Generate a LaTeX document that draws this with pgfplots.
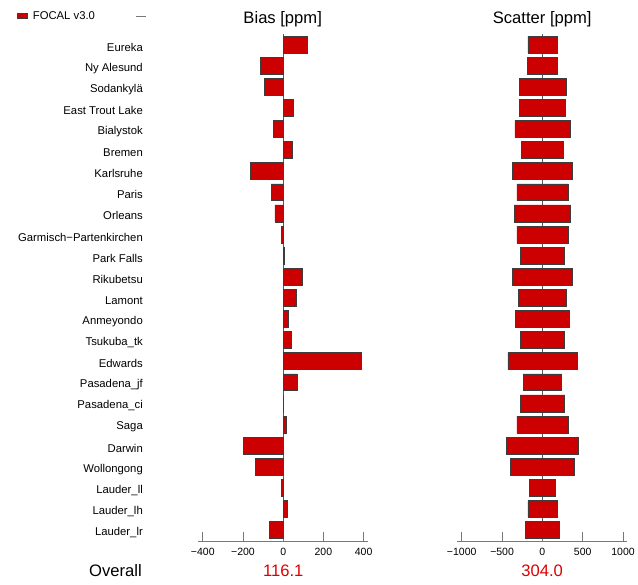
\documentclass[border=0pt]{standalone}
\usepackage{pgfplots}
\pgfplotsset{compat=1.18}
\usepackage{pgfplotstable}
\usepackage{fontspec}
\setmainfont{Liberation Sans}
\definecolor{barred}{RGB}{204,0,0}
\definecolor{baredge}{RGB}{60,60,60}
\definecolor{numred}{RGB}{220,0,0}
\definecolor{axgray}{RGB}{120,120,120}
\definecolor{zerogray}{RGB}{90,90,90}

\pgfplotsset{
 rectlegend/.style={legend image code/.code={\draw[##1] (0bp,-2.3bp) rectangle (10bp,2.3bp);}},
 dashlegend/.style={legend image code/.code={\draw[##1] (0bp,0bp) -- (10bp,0bp);}},
}
\pgfkeysifdefined{/pgfplots/stack negative/.@cmd}
  {\pgfplotsset{mystack/.style={stack negative=on previous}}}
  {\pgfplotsset{mystack/.style={}}}

% y index: 0 = Lauder_lr (bottom) ... 23 = Eureka (top)
\pgfplotstableread{
y bias scatter
23 120 180
22 -115 186
21 -92 290
20 52 288
19 -49 340
18 47 257
17 -164 368
16 -60 317
15 -41 350
14 -10 317
13 3 269
12 95 368
11 67 301
10 27 335
9 40 271
8 390 427
7 69 238
6 -1 277
5 14 315
4 -199 449
3 -139 393
2 -8 166
1 20 180
0 -69 209
}\sitedata

\begin{document}
\begin{tikzpicture}
\path[use as bounding box] (0,0) rectangle (638bp,585bp);
% zero lines, drawn first so that the bars cover them
\draw[zerogray, line width=0.8bp] (283.2bp,43.3bp) -- (283.2bp,551bp);
\draw[zerogray, line width=0.8bp] (542.4bp,43.3bp) -- (542.4bp,551bp);
\pgfplotsset{
 panel/.style={
  scale only axis, width=169.8bp, height=507.7bp, anchor=south west,
  ymin=-0.55, ymax=23.5,
  axis x line*=bottom, axis y line*=left,
  y axis line style={draw=none},
  x axis line style={draw=axgray, line width=0.8bp},
  tick align=inside,
  major tick length=10bp,
  xtick style={draw=axgray, line width=0.8bp},
  ytick style={draw=none},
  ticklabel style={font=\fontsize{10.5bp}{12bp}\selectfont},
  xticklabel style={yshift=-3bp},
  /pgf/number format/assume math mode=true,
  title style={font=\fontsize{16.6bp}{19bp}\selectfont, at={(0.5,1)}, anchor=base, yshift=5bp},
  bar width=0.8,
  clip=false,
 },
 redbar/.style={fill=barred, draw=baredge, line width=0.6bp},
}

\begin{axis}[panel, at={(197.8bp,43.3bp)},
  xbar,
  xmin=-425, xmax=420,
  xtick={-400,-200,0,200,400},
  xticklabels={−400,−200,0,200,400},
  ytick={0,...,23},
  yticklabels={Lauder\_lr, Lauder\_lh, Lauder\_ll, Wollongong, Darwin, Saga, Pasadena\_ci, Pasadena\_jf, Edwards, Tsukuba\_tk, Anmeyondo, Lamont, Rikubetsu, Park Falls, Garmisch−Partenkirchen, Orleans, Paris, Karlsruhe, Bremen, Bialystok, East Trout Lake, Sodankylä, Ny Alesund, Eureka},
  yticklabel style={font=\fontsize{11.3bp}{13bp}\selectfont, anchor=east, inner sep=0pt, xshift=-44.8bp, yshift=-2.5bp},
  title={Bias [ppm]},
  legend style={at={(-1.082,1.053)}, anchor=north west, draw=none, fill=none,
    font=\fontsize{11.3bp}{13bp}\selectfont, legend columns=2,
    /tikz/every odd column/.append style={column sep=3bp},
    /tikz/every even column/.append style={column sep=39bp}},
]
\addplot[redbar, rectlegend]
  table[x=bias, y=y] {\sitedata};
\addlegendentry{FOCAL v3.0}
\addlegendimage{axgray, line width=0.8bp, dashlegend}
\addlegendentry{}
\end{axis}

\begin{axis}[panel, at={(457.3bp,43.3bp)},
  xbar stacked, mystack,
  xmin=-1055, xmax=1050,
  xtick={-1000,-500,0,500,1000},
  xticklabels={−1000,−500,0,500,1000},
  ytick=\empty,
  title={Scatter [ppm]},
]
\addplot[draw=none, fill=none] table[x expr=-\thisrow{scatter}, y=y] {\sitedata};
\addplot[redbar] table[x expr=2*\thisrow{scatter}, y=y] {\sitedata};
\end{axis}

\node[anchor=base east, inner sep=0pt, font=\fontsize{16.6bp}{19bp}\selectfont] at (142bp,8.3bp) {Overall};
\node[anchor=base, inner sep=0pt, text=numred, font=\fontsize{16.6bp}{19bp}\selectfont] at (283.2bp,8.3bp) {116.1};
\node[anchor=base, inner sep=0pt, text=numred, font=\fontsize{16.6bp}{19bp}\selectfont] at (542.2bp,8.3bp) {304.0};
\end{tikzpicture}
\end{document}
